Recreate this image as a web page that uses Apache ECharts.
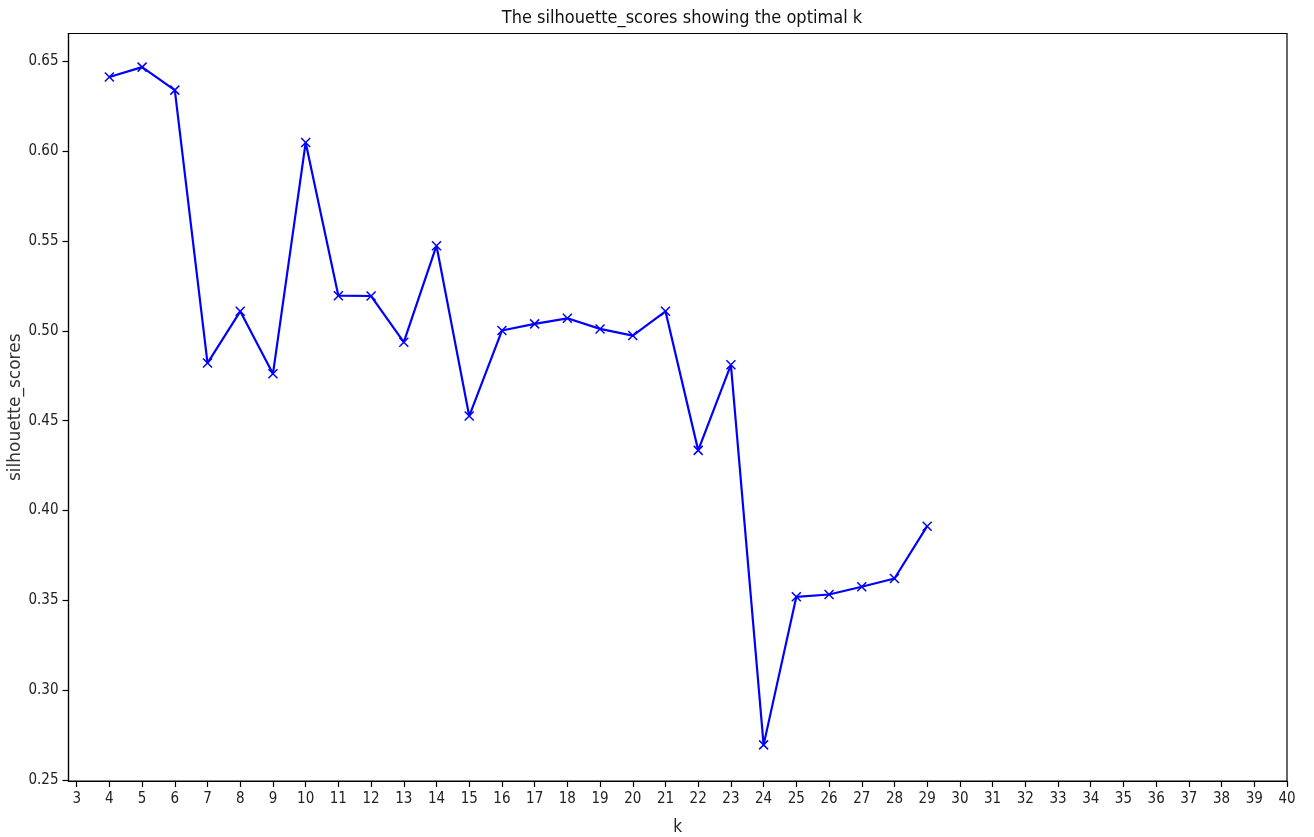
<!DOCTYPE html>
<html>
<head>
<meta charset="utf-8">
<script src="https://cdn.jsdelivr.net/npm/echarts@6/dist/echarts.min.js"></script>
<style>
  html, body { margin: 0; padding: 0; background: #fff; }
  #chart { width: 1314px; height: 837px; }
</style>
</head>
<body>
<div id="chart"></div>
<script>
// number of clusters tried
const kValues = [4, 5, 6, 7, 8, 9, 10, 11, 12, 13, 14, 15, 16, 17, 18, 19, 20, 21, 22, 23, 24, 25, 26, 27, 28, 29];
// silhouette score for each k
const silhouetteScores = [
  0.6413, 0.6468, 0.6340, 0.4821, 0.5109, 0.4761, 0.6048, 0.5196, 0.5194, 0.4937,
  0.5474, 0.4526, 0.5002, 0.5039, 0.5070, 0.5011, 0.4974, 0.5109, 0.4335, 0.4811,
  0.2696, 0.3520, 0.3533, 0.3576, 0.3622, 0.3913
];
// tick positions shown on the axes
const xTicks = [3, 4, 5, 6, 7, 8, 9, 10, 11, 12, 13, 14, 15, 16, 17, 18, 19, 20, 21, 22,
  23, 24, 25, 26, 27, 28, 29, 30, 31, 32, 33, 34, 35, 36, 37, 38, 39, 40];
const yTicks = [0.25, 0.30, 0.35, 0.40, 0.45, 0.50, 0.55, 0.60, 0.65];

const condensed = '"DejaVu Sans Condensed", "DejaVu Sans", sans-serif';
const chart = echarts.init(document.getElementById('chart'), null, { renderer: 'canvas' });

chart.setOption({
  animation: false,
  backgroundColor: '#ffffff',
  title: {
    text: 'The silhouette_scores showing the optimal k',
    left: 677,
    top: 4,
    textAlign: 'center',
    textStyle: { fontFamily: condensed, fontSize: 18, fontWeight: 'normal', color: '#111' }
  },
  grid: {
    left: 68.5, right: 27, top: 33.5, bottom: 56,
    outerBoundsMode: 'none',
    containLabel: false,
    show: true, borderColor: '#000', borderWidth: 1.2, backgroundColor: '#fff'
  },
  xAxis: {
    type: 'value',
    min: 2.75,
    max: 40,
    name: 'k',
    nameLocation: 'middle',
    nameGap: 38,
    nameMoveOverlap: false,
    nameTextStyle: { fontFamily: condensed, fontSize: 17, color: '#222' },
    splitLine: { show: false },
    axisLine: { show: true, onZero: false, lineStyle: { color: '#000', width: 1.2 } },
    axisTick: { show: true, length: 6, inside: false, customValues: xTicks, lineStyle: { color: '#000', width: 1.2 } },
    axisLabel: {
      customValues: xTicks, margin: 11,
      fontFamily: condensed, fontSize: 15, color: '#222'
    }
  },
  yAxis: {
    type: 'value',
    min: 0.2495,
    max: 0.6655,
    name: 'silhouette_scores',
    nameLocation: 'middle',
    nameGap: 44,
    nameMoveOverlap: false,
    nameRotate: 90,
    nameTextStyle: { fontFamily: '"DejaVu Sans", sans-serif', fontSize: 17, color: '#333' },
    splitLine: { show: false },
    axisLine: { show: true, lineStyle: { color: '#000', width: 1.2 } },
    axisTick: { show: true, length: 6, inside: false, customValues: yTicks, lineStyle: { color: '#000', width: 1.2 } },
    axisLabel: {
      customValues: yTicks, margin: 10,
      fontFamily: condensed, fontSize: 15, color: '#222',
      formatter: v => v.toFixed(2)
    }
  },
  series: [{
    type: 'line',
    data: kValues.map((k, i) => [k, silhouetteScores[i]]),
    symbol: 'path://M0,0L10,10M10,0L0,10',
    symbolSize: 9,
    showAllSymbol: true,
    lineStyle: { color: '#0000ff', width: 2.2 },
    itemStyle: { color: '#0000ff', borderColor: '#0000ff', borderWidth: 1.5 }
  }]
});
</script>
</body>
</html>
